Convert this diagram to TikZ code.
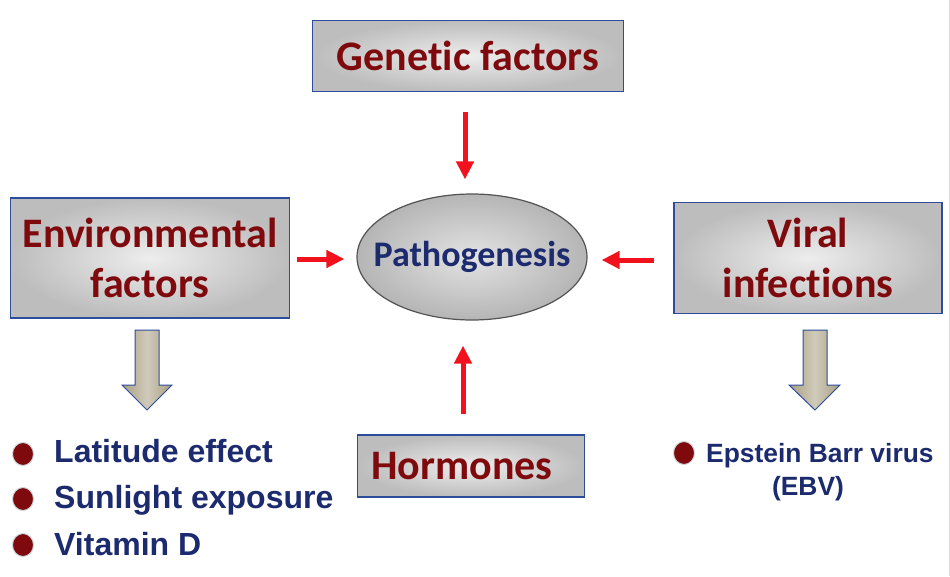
\documentclass[tikz,border=0pt]{standalone}
\usepackage{fontspec}
\setmainfont[Ligatures=NoCommon]{Carlito}
\newfontfamily\listfont{Liberation Sans}
\usetikzlibrary{arrows.meta,shapes.geometric}

\definecolor{rougefonce}{HTML}{7E0A0E}
\definecolor{bleunuit}{HTML}{1C2A6E}
\definecolor{bordbleu}{HTML}{2D4C9C}
\definecolor{rougevif}{HTML}{F2121E}
\definecolor{beige}{HTML}{A99F82}

\tikzset{
  facteur/.style={draw=bordbleu, line width=1.6pt, shading=radial,
    inner color=gray!14, outer color=gray!52, align=center,
    text=rougefonce, font=\bfseries\fontsize{42}{50}\selectfont},
  centre/.style={ellipse, draw=gray!65!black, line width=1.2pt, shading=radial,
    inner color=gray!22, outer color=gray!58, text=bleunuit,
    inner xsep=-20pt, inner ysep=0pt,
    minimum width=230pt, minimum height=126pt,
    font=\bfseries\fontsize{36}{40}\selectfont},
  fleche/.style={draw=rougevif, line width=5pt,
    -{Triangle[length=18pt,width=17pt]}},
  grossefleche/.style={draw=bordbleu, line width=1pt, shading=axis,
    left color=beige, right color=beige, middle color=beige!55},
  puce/.style={ellipse, fill=rougefonce, draw=cyan!20!gray!40, line width=1pt,
    minimum width=21pt, minimum height=23pt, inner sep=0pt},
  liste/.style={text=bleunuit, font=\listfont\bfseries\fontsize{32}{36}\selectfont},
  listepetite/.style={text=bleunuit, font=\listfont\bfseries\fontsize{26.4}{30}\selectfont}
}

\begin{document}
\begin{tikzpicture}[x=1pt,y=-1pt]
    \useasboundingbox (0,0) rectangle (950,576);
    % bord de la diapositive
    \draw[gray!30, line width=1pt] (949,0) -- (949,576);
    % les facteurs
    \node[facteur, minimum width=311pt, minimum height=71pt] (gen) at (468,56) {Genetic factors};
    \node[facteur, minimum width=279pt, minimum height=120pt] (env) at (150,258) {Environmental\\factors};
    \node[facteur, minimum width=268pt, minimum height=111pt] (vir) at (808,258) {Viral\\infections};
    \node[facteur, minimum width=227pt, minimum height=62pt] (hor) at (471,466) {Hormones\hspace*{18pt}};
    \node[centre] (patho) at (472,257) {Pathogenesis};
    % fleches rouges
    \draw[fleche, shorten <=20pt, shorten >=14pt] ([xshift=-3pt]gen.south) -- ([xshift=-3pt]gen.south |- patho.north);
    \draw[fleche, shorten <=7pt, shorten >=12pt] ([yshift=-1pt]env.east) -- ([yshift=-1pt]env.east -| patho.west);
    \draw[fleche, shorten <=19pt, shorten >=14pt] ([yshift=-2pt]vir.west) -- ([yshift=-2pt]vir.west -| patho.east);
    \draw[fleche, shorten <=20pt, shorten >=25pt] ([xshift=-8pt]hor.north) -- ([xshift=-8pt]hor.north |- patho.south);
    % grosses fleches
    \draw[grossefleche] (135,330) -- (159,330) -- (159,385) -- (172,385) -- (147,410)
      -- (122,385) -- (135,385) -- cycle;
    \draw[grossefleche] (803,330) -- (827,330) -- (827,385) -- (840,385) -- (815,410)
      -- (789,385) -- (803,385) -- cycle;
    % liste de gauche
    \node[puce] (p1) at (23,454) {};
    \node[puce] (p2) at (23,499) {};
    \node[puce] (p3) at (23,545) {};
    \node[liste, anchor=base west, inner sep=0pt] (l1) at (54,462) {Latitude effect};
    \node[liste, anchor=base west, inner sep=0pt] (l2) at (54,508) {Sunlight exposure};
    \node[liste, anchor=base west, inner sep=0pt] (l3) at (54,555) {Vitamin D};
    % liste de droite
    \node[puce] (p4) at (684,453) {};
    \node[listepetite, anchor=base west, inner sep=0pt] (ebv1) at (706,462) {Epstein Barr virus};
    \node[listepetite, anchor=base, inner sep=0pt] (ebv2) at (808,495) {(EBV)};
\end{tikzpicture}
\end{document}
